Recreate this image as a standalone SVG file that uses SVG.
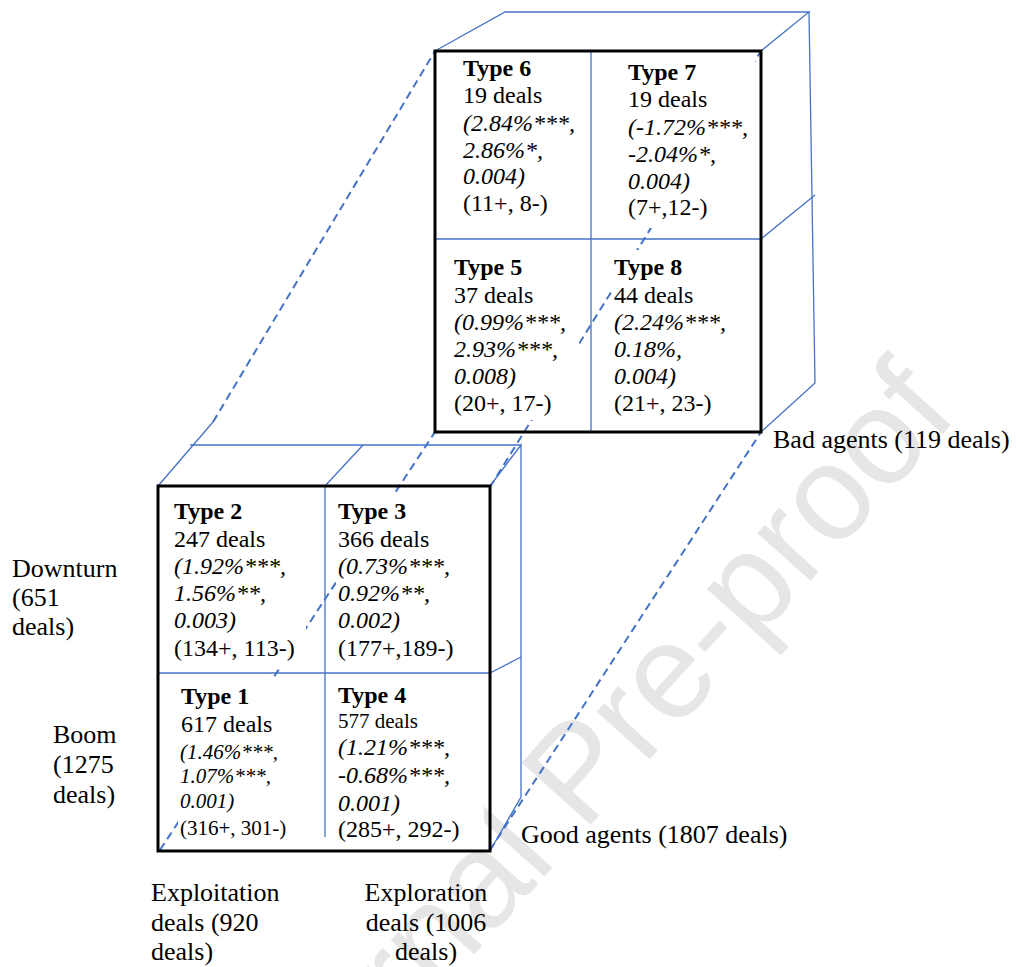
<svg xmlns="http://www.w3.org/2000/svg" width="1018" height="967" viewBox="0 0 1018 967">
  <style>
    .frame { fill: none; stroke: #000; stroke-width: 3; }
    .edge { fill: none; stroke: #4472C4; stroke-width: 1.3; }
    .dash { fill: none; stroke: #4472C4; stroke-width: 2; stroke-dasharray: 8 5; }
    .bg { fill: #fff; stroke: none; }
    text { font-family: "Liberation Serif", "Times New Roman", serif; fill: #000; }
    .cell { font-size: 24px; }
    .small { font-size: 21px; }
    .title { font-weight: bold; }
    .it { font-style: italic; }
    .lab { font-size: 26px; }
    .mark { font-family: "Liberation Sans", Arial, sans-serif; font-size: 135px; fill: #e6e6e6; }
  </style>

  <rect width="1018" height="967" fill="#fff"/>

  <!-- watermark -->
  <text class="mark" transform="translate(262,1190) rotate(-48)">Journal Pre-proof</text>

  <!-- dashed hidden edges joining the two boxes -->
  <g id="connectors">
    <path class="dash" d="M160,850 L435,432"/>
    <path class="dash" d="M490,487 L761,51"/>
    <path class="dash" d="M490,850 L761,432"/>
    <path class="dash" d="M213,422 L435,51"/>
  </g>

  <!-- upper box: bad agents -->
  <g id="cube-bad">
    <path class="edge" d="M435,51 L505,12 L809,12 L761,51"/>
    <path class="edge" d="M809,12 L815,383 L761,432"/>
    <path class="edge" d="M761,239 L815,195"/>
    <path class="edge" d="M591,51 L591,432"/>
    <path class="edge" d="M435,239 L761,239"/>
    <rect class="frame" x="435" y="51" width="326" height="381"/>
  </g>

  <!-- lower box: good agents -->
  <g id="cube-good">
    <path class="edge" d="M158,486 L213,422"/>
    <path class="edge" d="M190,445 L521,445"/>
    <path class="edge" d="M325,486 L363,445"/>
    <path class="edge" d="M490,486 L521,445 L521,797 L490,851"/>
    <path class="edge" d="M490,673 L521,657"/>
    <path class="edge" d="M325,486 L325,837"/>
    <path class="edge" d="M158,673 L490,673"/>
    <rect class="frame" x="158" y="486" width="332" height="365"/>
  </g>

  <g id="type6">
    <rect class="bg" x="458" y="56" width="128" height="165"/>
    <text class="cell title" x="463" y="76">Type 6</text>
    <text class="cell" x="463" y="103">19 deals</text>
    <text class="cell it" x="463" y="131">(2.84%***,</text>
    <text class="cell it" x="463" y="158">2.86%*,</text>
    <text class="cell it" x="463" y="184">0.004)</text>
    <text class="cell" x="463" y="211">(11+, 8-)</text>
  </g>

  <g id="type7">
    <rect class="bg" x="620" y="56" width="135" height="172"/>
    <text class="cell title" x="628" y="80">Type 7</text>
    <text class="cell" x="628" y="107">19 deals</text>
    <text class="cell it" x="628" y="135">(-1.72%***,</text>
    <text class="cell it" x="628" y="162">-2.04%*,</text>
    <text class="cell it" x="628" y="189">0.004)</text>
    <text class="cell" x="628" y="215">(7+,12-)</text>
  </g>

  <g id="type5">
    <rect class="bg" x="448" y="250" width="131" height="170"/>
    <text class="cell title" x="454" y="275">Type 5</text>
    <text class="cell" x="454" y="303">37 deals</text>
    <text class="cell it" x="454" y="330">(0.99%***,</text>
    <text class="cell it" x="454" y="357">2.93%***,</text>
    <text class="cell it" x="454" y="384">0.008)</text>
    <text class="cell" x="454" y="411">(20+, 17-)</text>
  </g>

  <g id="type8">
    <rect class="bg" x="613" y="250" width="140" height="175"/>
    <text class="cell title" x="614" y="275">Type 8</text>
    <text class="cell" x="614" y="303">44 deals</text>
    <text class="cell it" x="614" y="330">(2.24%***,</text>
    <text class="cell it" x="614" y="357">0.18%,</text>
    <text class="cell it" x="614" y="384">0.004)</text>
    <text class="cell" x="614" y="411">(21+, 23-)</text>
  </g>

  <g id="type2">
    <rect class="bg" x="170" y="495" width="136" height="172"/>
    <text class="cell title" x="174" y="519">Type 2</text>
    <text class="cell" x="174" y="547">247 deals</text>
    <text class="cell it" x="174" y="574">(1.92%***,</text>
    <text class="cell it" x="174" y="601">1.56%**,</text>
    <text class="cell it" x="174" y="628">0.003)</text>
    <text class="cell" x="174" y="656">(134+, 113-)</text>
  </g>

  <g id="type3">
    <rect class="bg" x="336" y="495" width="145" height="170"/>
    <text class="cell title" x="338" y="519">Type 3</text>
    <text class="cell" x="338" y="547">366 deals</text>
    <text class="cell it" x="338" y="574">(0.73%***,</text>
    <text class="cell it" x="338" y="601">0.92%**,</text>
    <text class="cell it" x="338" y="628">0.002)</text>
    <text class="cell" x="338" y="656">(177+,189-)</text>
  </g>

  <g id="type1">
    <rect class="bg" x="178" y="680" width="140" height="165"/>
    <text class="cell title" x="181" y="704">Type 1</text>
    <text class="cell" x="181" y="732">617 deals</text>
    <text class="small it" x="180" y="759">(1.46%***,</text>
    <text class="small it" x="180" y="783">1.07%***,</text>
    <text class="small it" x="180" y="808">0.001)</text>
    <text class="small" x="180" y="835">(316+, 301-)</text>
  </g>

  <g id="type4">
    <rect class="bg" x="336" y="680" width="148" height="165"/>
    <text class="cell title" x="338" y="703">Type 4</text>
    <text class="small" x="338" y="728">577 deals</text>
    <text class="cell it" x="338" y="755">(1.21%***,</text>
    <text class="cell it" x="338" y="783">-0.68%***,</text>
    <text class="cell it" x="338" y="811">0.001)</text>
    <text class="cell" x="338" y="837">(285+, 292-)</text>
  </g>

  <g id="label-bad">
    <text class="lab" x="773" y="448">Bad agents (119 deals)</text>
  </g>
  <g id="label-good">
    <text class="lab" x="521" y="843">Good agents (1807 deals)</text>
  </g>
  <g id="label-downturn">
    <text class="lab" x="12" y="577">Downturn</text>
    <text class="lab" x="12" y="606">(651</text>
    <text class="lab" x="12" y="635">deals)</text>
  </g>
  <g id="label-boom">
    <text class="lab" x="53" y="743">Boom</text>
    <text class="lab" x="53" y="773">(1275</text>
    <text class="lab" x="53" y="803">deals)</text>
  </g>
  <g id="label-exploitation">
    <text class="lab" x="151" y="901">Exploitation</text>
    <text class="lab" x="151" y="931">deals (920</text>
    <text class="lab" x="151" y="960">deals)</text>
  </g>
  <g id="label-exploration" text-anchor="middle">
    <text class="lab" x="426" y="901">Exploration</text>
    <text class="lab" x="426" y="931">deals (1006</text>
    <text class="lab" x="426" y="960">deals)</text>
  </g>
</svg>
